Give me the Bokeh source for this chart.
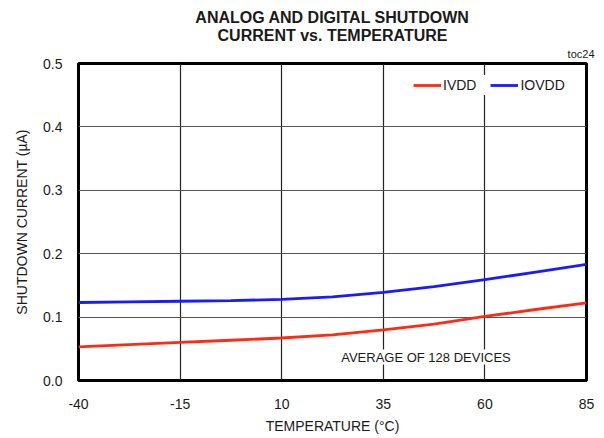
from bokeh.plotting import figure
from bokeh.models import (FixedTicker, PrintfTickFormatter, Title, Label, Legend, LegendItem)
from bokeh.embed import file_html
from bokeh.resources import INLINE

temperature = [-40, -27.5, -15, -2.5, 10, 22.5, 35, 47.5, 60, 72.5, 85]
ivdd = [0.053, 0.0565, 0.060, 0.0635, 0.067, 0.072, 0.080, 0.089, 0.101, 0.112, 0.1225]
iovdd = [0.123, 0.124, 0.125, 0.126, 0.128, 0.132, 0.139, 0.148, 0.159, 0.171, 0.183]
x_ticks = [-40, -15, 10, 35, 60, 85]
x_tick_labels = ["-40", "-15", "10", "35", "60", "85"]
y_ticks = [0.0, 0.1, 0.2, 0.3, 0.4, 0.5]

FONT = "Liberation Sans"
TXT = "#1a1a1a"

p = figure(width=600, height=436, output_backend="svg", toolbar_location=None,
           x_range=(-40, 85), y_range=(0, 0.5), title=None,
           min_border_left=78, min_border_right=14, min_border_bottom=53, min_border_top=63)

# titles (last added is outermost)
p.add_layout(Title(text="toc24", align="right", text_font=FONT, text_font_size="11px",
                   text_font_style="normal", text_color=TXT, standoff=7, offset=-8), "above")
p.add_layout(Title(text="CURRENT vs. TEMPERATURE", align="center", text_font=FONT,
                   text_font_size="16px", text_font_style="bold", text_color=TXT,
                   standoff=-2, offset=-5), "above")
p.add_layout(Title(text="ANALOG AND DIGITAL SHUTDOWN", align="center", text_font=FONT,
                   text_font_size="16px", text_font_style="bold", text_color=TXT,
                   standoff=0, offset=-5), "above")

p.outline_line_color = "black"
p.outline_line_width = 3

for ax in (p.xaxis[0], p.yaxis[0]):
    ax.axis_line_color = None
    ax.major_tick_line_color = None
    ax.minor_tick_line_color = None
    ax.major_label_text_font = FONT
    ax.major_label_text_font_size = "14px"
    ax.major_label_text_color = TXT
    ax.axis_label_text_font = FONT
    ax.axis_label_text_font_size = "14px"
    ax.axis_label_text_font_style = "normal"
    ax.axis_label_text_color = TXT

p.xaxis.ticker = FixedTicker(ticks=x_ticks)
p.xaxis.major_label_overrides = {t: s for t, s in zip(x_ticks, x_tick_labels)}
p.yaxis.ticker = FixedTicker(ticks=y_ticks)
p.yaxis.formatter = PrintfTickFormatter(format="%.1f")
p.xaxis.major_label_standoff = 12
p.yaxis.major_label_standoff = 10
p.xaxis.axis_label = "TEMPERATURE (°C)"
p.yaxis.axis_label = "SHUTDOWN CURRENT (µA)"
p.xaxis.axis_label_standoff = 6
p.yaxis.axis_label_standoff = 10

p.xgrid.grid_line_color = "#222222"
p.ygrid.grid_line_color = "#555555"
p.xgrid.grid_line_width = 1.2
p.ygrid.grid_line_width = 1.2

r1 = p.line(temperature, ivdd, line_color="#FF2A14", line_width=2.8)
r2 = p.line(temperature, iovdd, line_color="#1A1AFF", line_width=2.8)

note = Label(x=45.5, y=0.037, text="AVERAGE OF 128 DEVICES", text_align="center",
             text_baseline="middle", text_font=FONT, text_font_size="13px",
             text_color=TXT, background_fill_color="white")
p.add_layout(note)

legend = Legend(items=[LegendItem(label="IVDD", renderers=[r1]),
                       LegendItem(label="IOVDD", renderers=[r2])],
                location=(335, 285), orientation="horizontal",
                border_line_color=None, background_fill_color="white", background_fill_alpha=1,
                label_text_font=FONT, label_text_font_size="14px", label_text_color=TXT,
                glyph_width=28, label_standoff=2, spacing=14, padding=6, margin=0)
p.add_layout(legend)

open("out.html", "w").write(file_html(p, INLINE))
